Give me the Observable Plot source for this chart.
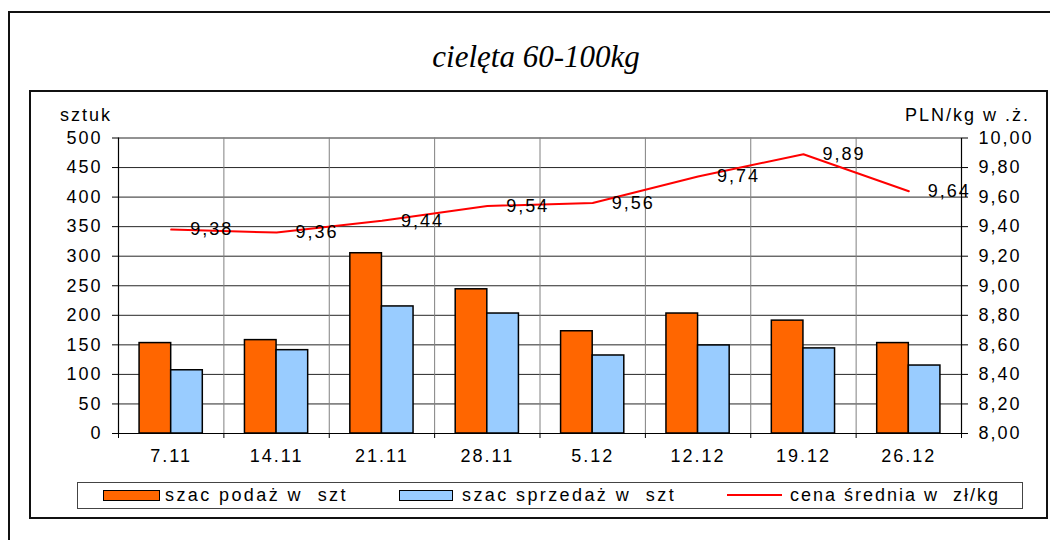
<!DOCTYPE html>
<html>
<head>
<meta charset="utf-8">
<script src="https://cdn.jsdelivr.net/npm/d3@7"></script>
<script src="https://cdn.jsdelivr.net/npm/@observablehq/plot@0.6"></script>
<style>
  html, body { margin: 0; padding: 0; background: #fff; }
  #page { position: relative; width: 1050px; height: 540px; overflow: hidden; background: #fff;
          font-family: "Liberation Sans", Arial, sans-serif; color: #000; }
  #outer { position: absolute; left: 8px; top: 11px; width: 1200px; height: 700px;
           border-left: 2px solid #111; border-top: 2px solid #111; box-sizing: border-box; }
  #title { position: absolute; left: 0; top: 41px; width: 1072px; text-align: center;
           font-family: "Liberation Serif", "Times New Roman", serif; font-style: italic;
           font-size: 31px; line-height: 31px; white-space: pre; }
  #inner { position: absolute; left: 29px; top: 90px; width: 1019px; height: 429px;
           border: 2px solid #111; box-sizing: border-box; }
  #inner svg { position: absolute; left: 0; top: 0; }
  .unit { position: absolute; top: 14px; font-size: 18px; line-height: 18px; letter-spacing: 2px; white-space: pre; }
  #legend { position: absolute; left: 46px; top: 389.5px; width: 946px; height: 27.5px;
            border: 1.5px solid #444; box-sizing: border-box; }
  .sw { position: absolute; top: 7.5px; height: 11px; box-sizing: border-box; border: 1.5px solid #000; }
  .lt { position: absolute; top: 3.5px; font-size: 18px; line-height: 18px; letter-spacing: 2.4px; white-space: pre; }
  .ln { position: absolute; top: 11.5px; height: 2px; background: #FF0000; }
</style>
</head>
<body>
<div id="page">
  <div id="outer"></div>
  <div id="title">cielęta 60-100kg</div>
  <div id="inner">
    <div id="chart"></div>
    <div class="unit" id="uL" style="left:29px;">sztuk</div>
    <div class="unit" id="uR" style="right:16px;">PLN/kg w .ż.</div>
    <div id="legend">
      <div class="sw" style="left:25px; width:57px; background:#FF6600;"></div>
      <div class="lt" style="left:87px;">szac podaż w  szt</div>
      <div class="sw" style="left:321px; width:54px; background:#99CCFF;"></div>
      <div class="lt" style="left:384px;">szac sprzedaż w  szt</div>
      <div class="ln" style="left:649px; width:55px;"></div>
      <div class="lt" style="left:712px; letter-spacing:2px;">cena średnia w  zł/kg</div>
    </div>
  </div>
</div>
<script>
// ---- data ----
const categories = ["7.11", "14.11", "21.11", "28.11", "5.12", "12.12", "19.12", "26.12"];
const podaz = [153, 158, 305, 244, 173, 203, 191, 153];        // szac podaż w szt
const sprzedaz = [107, 141, 215, 203, 132, 149, 144, 115];     // szac sprzedaż w szt
const cena = [9.38, 9.36, 9.44, 9.54, 9.56, 9.74, 9.89, 9.64]; // cena średnia w zł/kg
const leftTicks = [0, 50, 100, 150, 200, 250, 300, 350, 400, 450, 500];
const rightTicks = [8.00, 8.20, 8.40, 8.60, 8.80, 9.00, 9.20, 9.40, 9.60, 9.80, 10.00];

// right axis (8..10) mapped onto left axis (0..500)
const rMin = 8, rMax = 10, lMax = 500;
const toLeft = p => (p - rMin) * lMax / (rMax - rMin);
const fmtComma = v => v.toFixed(2).replace(".", ",");
const boundaries = d3.range(categories.length + 1);

const chart = Plot.plot({
  width: 1015,
  height: 380,
  marginLeft: 87,
  marginRight: 85,
  marginTop: 45.5,
  marginBottom: 39,
  style: {
    fontFamily: "'Liberation Sans', Arial, sans-serif",
    fontSize: "18px",
    letterSpacing: "2px",
    color: "#000",
    background: "transparent",
    overflow: "visible"
  },
  x: { domain: [0, categories.length], axis: null },
  y: { domain: [0, lMax], axis: null },
  marks: [
    // horizontal gridlines
    Plot.ruleY(leftTicks, { stroke: "#000", strokeOpacity: 0.85, strokeWidth: 1 }),
    // vertical gridlines at category boundaries
    Plot.ruleX(boundaries.slice(1, -1), { stroke: "#808080", strokeWidth: 1 }),
    // bars
    Plot.rect(podaz, { x1: (d, i) => i + 0.2, x2: (d, i) => i + 0.5, y1: 0, y2: d => d,
      fill: "#FF6600", stroke: "#000", strokeWidth: 1.5 }),
    Plot.rect(sprzedaz, { x1: (d, i) => i + 0.5, x2: (d, i) => i + 0.8, y1: 0, y2: d => d,
      fill: "#99CCFF", stroke: "#000", strokeWidth: 1.5 }),
    // price line
    Plot.line(cena, { x: (d, i) => i + 0.5, y: d => toLeft(d), stroke: "#FF0000", strokeWidth: 2 }),
    Plot.text(cena, { x: (d, i) => i + 0.5, y: d => toLeft(d), text: d => fmtComma(d),
      textAnchor: "start", dx: 19, fill: "#000" }),
    // axis lines
    Plot.ruleX([0, categories.length], { stroke: "#000", strokeWidth: 1.2 }),
    Plot.ruleY([0], { stroke: "#000", strokeWidth: 1.2 }),
    // left axis
    Plot.axisY(leftTicks, { anchor: "left", tickSize: 6, tickPadding: 10, label: null, tickFormat: d => String(d) }),
    // right axis
    Plot.axisY(rightTicks.map(toLeft), { anchor: "right", tickSize: 6, tickPadding: 11, label: null,
      tickFormat: d => fmtComma(d * (rMax - rMin) / lMax + rMin) }),
    // bottom ticks at category boundaries
    Plot.axisX(boundaries, { anchor: "bottom", tickSize: 5, tickFormat: () => "", label: null }),
    // category labels
    Plot.text(categories, { x: (d, i) => i + 0.5, frameAnchor: "bottom", dy: 28, fill: "#000" })
  ]
});
document.getElementById("chart").appendChild(chart);
</script>
</body>
</html>
